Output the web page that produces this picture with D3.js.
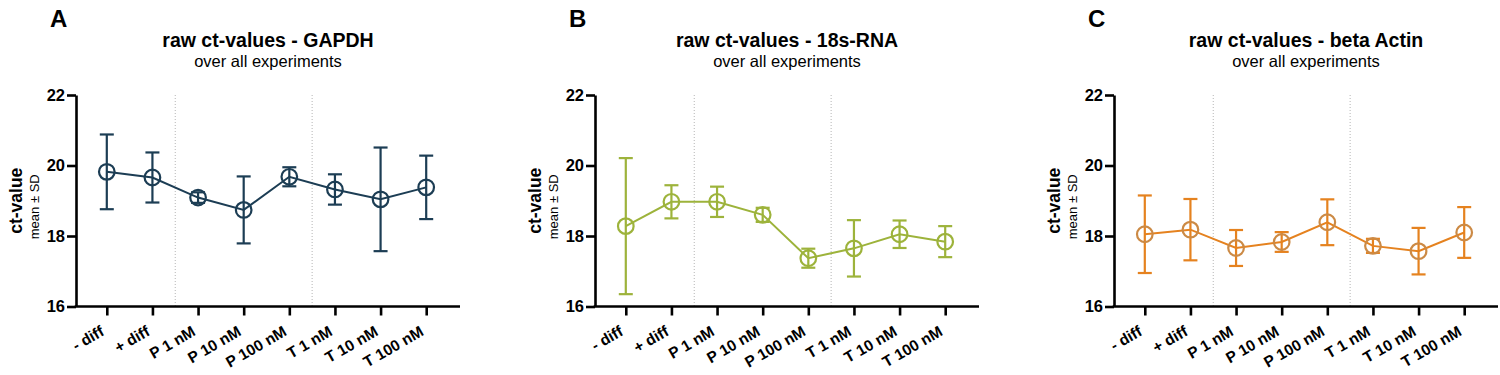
<!DOCTYPE html>
<html><head><meta charset="utf-8">
<script src="https://cdn.jsdelivr.net/npm/d3@7"></script>
<style>body{margin:0;background:#fff}svg{display:block;font-family:"Liberation Sans",Arial,sans-serif}</style>
</head><body>
<svg id="c" width="1500" height="375"></svg>
<script>
const categories = ["- diff","+ diff","P 1 nM","P 10 nM","P 100 nM","T 1 nM","T 10 nM","T 100 nM"];
const yTicks = [16,18,20,22];
const gapdhMean = [19.82,19.66,19.09,18.74,19.68,19.32,19.04,19.38];
const gapdhSD   = [1.06,0.71,0.15,0.95,0.27,0.43,1.47,0.90];
const rnaMean   = [18.28,18.97,18.97,18.60,17.37,17.65,18.05,17.84];
const rnaSD     = [1.93,0.47,0.43,0.20,0.27,0.80,0.39,0.44];
const actinMean = [18.05,18.18,17.66,17.83,18.39,17.72,17.57,18.10];
const actinSD   = [1.10,0.87,0.51,0.28,0.65,0.20,0.66,0.72];
const panelLetters = ["A","B","C"];
const panelTitles = ["raw ct-values - GAPDH","raw ct-values - 18s-RNA","raw ct-values - beta Actin"];
const subtitle = "over all experiments";

const panels = [
  {letter:panelLetters[0], title:panelTitles[0], mean:gapdhMean, sd:gapdhSD, line:"#1c3d54", mark:"#1c3d54", x0:76},
  {letter:panelLetters[1], title:panelTitles[1], mean:rnaMean, sd:rnaSD, line:"#9db33b", mark:"#9db33b", x0:595},
  {letter:panelLetters[2], title:panelTitles[2], mean:actinMean, sd:actinSD, line:"#e5821f", mark:"#cc8a45", x0:1114}
];
const svg = d3.select("#c");
const W = 384, yTop = 95, yBot = 306.5;

panels.forEach(p => {
  const g = svg.append("g");
  const x = d3.scalePoint().domain(categories).range([p.x0+30.8, p.x0+350.2]);
  const y = d3.scaleLinear().domain([16,22]).range([yBot,yTop]);
  const cx = c => x(c);
  [[1,2],[4,5]].forEach(([a,b]) => {
    const xx = (x(categories[a])+x(categories[b]))/2;
    g.append("line").attr("x1",xx).attr("x2",xx).attr("y1",yTop).attr("y2",yBot)
      .attr("stroke","#b5b5b5").attr("stroke-width",1).attr("stroke-dasharray","1,2");
  });
  const ya = g.append("g").attr("transform",`translate(${p.x0},0)`)
    .call(d3.axisLeft(y).tickValues(yTicks).tickSize(9).tickSizeOuter(0).tickFormat(d3.format("d")));
  ya.select(".domain").attr("stroke","#000").attr("stroke-width",2.6);
  ya.selectAll(".tick line").attr("stroke","#000").attr("stroke-width",2.6);
  ya.selectAll(".tick text").attr("font-size",16.5).attr("font-weight","bold").attr("fill","#000").attr("x",-11);
  const xa = g.append("g").attr("transform",`translate(0,${yBot})`)
    .call(d3.axisBottom(x).tickSize(9).tickSizeOuter(0));
  xa.select(".domain").remove();
  xa.append("line").attr("x1",p.x0-1.3).attr("x2",p.x0+W).attr("stroke","#000").attr("stroke-width",2.6);
  xa.selectAll(".tick line").attr("stroke","#000").attr("stroke-width",2.6);
  xa.selectAll(".tick text").attr("font-size",15.5).attr("font-weight","bold").attr("fill","#000")
    .attr("text-anchor","end").attr("dy",0).attr("y",0)
    .attr("transform","translate(-2,28) rotate(-30)");
  const ly = (yTop+yBot)/2;
  g.append("text").attr("transform",`translate(${p.x0-54},${ly}) rotate(-90)`).attr("text-anchor","middle")
    .attr("font-size",17.5).attr("font-weight","bold").text("ct-value");
  g.append("text").attr("transform",`translate(${p.x0-37},${ly+6}) rotate(-90)`).attr("text-anchor","middle")
    .attr("font-size",13).text("mean ± SD");
  const tc = p.x0 + W/2;
  g.append("text").attr("x",tc).attr("y",47).attr("text-anchor","middle").attr("font-size",19.5).attr("font-weight","bold").text(p.title);
  g.append("text").attr("x",tc).attr("y",67).attr("text-anchor","middle").attr("font-size",16.5).text(subtitle);
  g.append("text").attr("x",p.x0-26).attr("y",27).attr("font-size",24).attr("font-weight","bold").text(p.letter);
  const data = categories.map((c,i)=>({c, m:p.mean[i], s:p.sd[i]}));
  g.append("path").datum(data).attr("fill","none").attr("stroke",p.line).attr("stroke-width",2)
    .attr("d", d3.line().x(d=>cx(d.c)).y(d=>y(d.m)));
  const eb = g.selectAll(".eb").data(data).join("g");
  eb.append("line").attr("x1",d=>cx(d.c)).attr("x2",d=>cx(d.c)).attr("y1",d=>y(d.m+d.s)).attr("y2",d=>y(d.m-d.s))
    .attr("stroke",p.line).attr("stroke-width",2.2);
  [1,-1].forEach(sgn=>{
    eb.append("line").attr("x1",d=>cx(d.c)-7).attr("x2",d=>cx(d.c)+7).attr("y1",d=>y(d.m+sgn*d.s)).attr("y2",d=>y(d.m+sgn*d.s))
      .attr("stroke",p.line).attr("stroke-width",2.2);
  });
  eb.append("circle").attr("cx",d=>cx(d.c)).attr("cy",d=>y(d.m)).attr("r",7.8)
    .attr("fill","none").attr("stroke",p.mark).attr("stroke-width",2.2);
});
</script>
</body></html>
